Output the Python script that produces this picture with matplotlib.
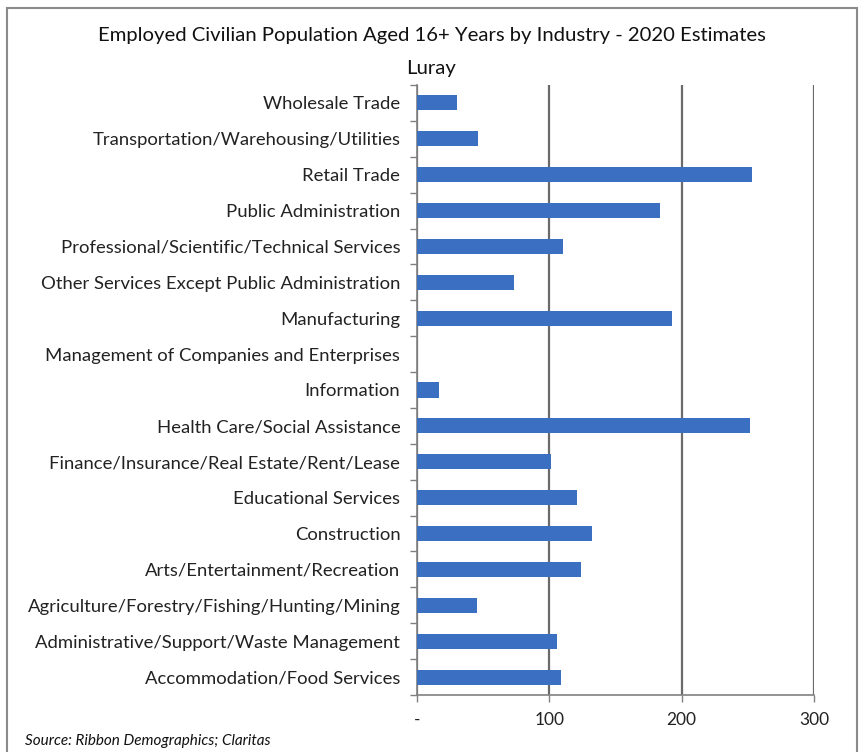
import matplotlib
matplotlib.use('Agg')
from matplotlib import pyplot as plt
from matplotlib.patches import Rectangle
import numpy as np

plt.rcParams['font.family'] = ['Lato', 'DejaVu Sans']

# industries, listed bottom to top as drawn
industries = ['Accommodation/Food Services',
              'Administrative/Support/Waste Management',
              'Agriculture/Forestry/Fishing/Hunting/Mining',
              'Arts/Entertainment/Recreation',
              'Construction',
              'Educational Services',
              'Finance/Insurance/Real Estate/Rent/Lease',
              'Health Care/Social Assistance',
              'Information',
              'Management of Companies and Enterprises',
              'Manufacturing',
              'Other Services Except Public Administration',
              'Professional/Scientific/Technical Services',
              'Public Administration',
              'Retail Trade',
              'Transportation/Warehousing/Utilities',
              'Wholesale Trade']
employed = [109, 106, 45, 124, 132, 121, 101, 252, 17, 0, 193, 73, 110, 184, 253, 46, 30]

x_ticks = [0, 100, 200, 300]
x_labels = ['-', '100', '200', '300']

fig = plt.figure(figsize=(8.63, 7.52), dpi=100)
ax = fig.add_axes([0.4832, 0.0758, 0.4600, 0.8112])

pos = np.arange(len(industries))
ax.barh(pos, employed, height=0.42, color='#3a6fc2', zorder=3)

ax.set_xlim(0, 300)
ax.set_ylim(-0.5, len(industries) - 0.5)

# vertical gridlines at each hundred
ax.set_xticks(x_ticks)
ax.set_xticklabels(x_labels, fontsize=12.5, color='#222222')
ax.grid(axis='x', color='#6a6a6a', linewidth=1.6, zorder=1)
ax.tick_params(axis='x', length=5, width=1, color='#808080', pad=7)

# category labels in the middle, tick marks between categories
ax.set_yticks(np.arange(len(industries) + 1) - 0.5)
ax.set_yticklabels([])
ax.tick_params(axis='y', which='major', length=5, width=1, color='#808080')
ax.set_yticks(pos, minor=True)
ax.set_yticklabels(industries, minor=True, fontsize=13.3, color='#222222')
ax.tick_params(axis='y', which='minor', length=0, pad=12)

for side in ['top', 'right']:
    ax.spines[side].set_visible(False)
for side in ['left', 'bottom']:
    ax.spines[side].set_color('#808080')
    ax.spines[side].set_linewidth(1.2)

fig.text(0.5, 0.953, 'Employed Civilian Population Aged 16+ Years by Industry - 2020 Estimates',
         ha='center', va='center', fontsize=14.6, color='#111111')
fig.text(0.5, 0.909, 'Luray', ha='center', va='center', fontsize=14.6, color='#111111')
fig.text(0.029, 0.014, 'Source: Ribbon Demographics; Claritas', ha='left', va='center',
         fontsize=11, style='italic', color='#111111')

# chart frame
fig.patches.append(Rectangle((0.008, -0.02), 0.985, 1.01, transform=fig.transFigure,
                             fill=False, edgecolor='#8a8a8a', linewidth=1.5))

plt.savefig('out.png', dpi=100)
plt.close()
